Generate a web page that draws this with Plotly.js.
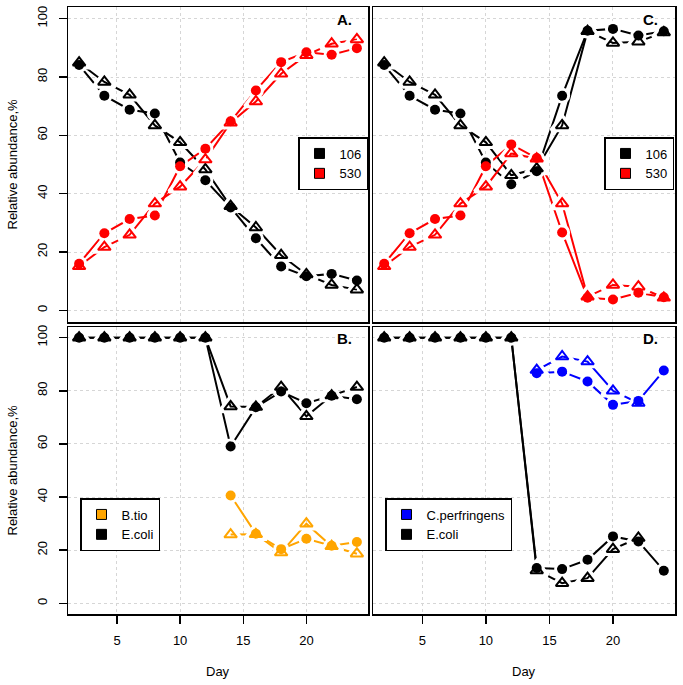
<!DOCTYPE html>
<html>
<head>
<meta charset="utf-8">
<script src="https://cdn.plot.ly/plotly-3.0.1.min.js"></script>
<style>html,body{margin:0;padding:0;background:#fff;}#chart{width:683px;height:685px;}</style>
</head>
<body>
<div id="chart"></div>
<script>
// ---------- data ----------
const days = [2, 4, 6, 8, 10, 12, 14, 16, 18, 20, 22, 24];
const xTicks = [5, 10, 15, 20];
const yTicks = [0, 20, 40, 60, 80, 100];

// Panel A
const a106Circle = [84.1, 73.6, 68.8, 67.5, 50.7, 44.6, 35.3, 24.7, 15.0, 11.7, 12.5, 10.2];
const a106Tri    = [84.9, 78.3, 73.9, 63.4, 57.6, 48.3, 35.7, 28.4, 18.9, 12.3, 8.7, 7.1];
const a530Circle = [16.0, 26.4, 31.3, 32.5, 49.4, 55.4, 64.8, 75.4, 85.1, 88.5, 87.6, 89.9];
const a530Tri    = [15.1, 21.7, 25.9, 36.6, 42.4, 51.7, 64.3, 71.6, 81.1, 87.5, 91.4, 92.9];

// Panel C
const c106Circle = [84.1, 73.6, 68.8, 67.5, 50.7, 43.2, 47.7, 73.6, 95.9, 96.5, 94.2, 95.7];
const c106Tri    = [84.9, 78.3, 73.9, 63.4, 57.6, 46.3, 48.6, 63.4, 95.7, 91.7, 92.1, 95.3];
const c530Circle = [16.0, 26.4, 31.3, 32.5, 49.4, 56.9, 52.2, 26.7, 4.3, 3.7, 6.0, 4.5];
const c530Tri    = [15.1, 21.7, 25.9, 36.6, 42.4, 53.8, 52.0, 36.6, 4.7, 8.7, 8.1, 4.3];

// Panel B
const bEcoliCircle = [100, 100, 100, 100, 100, 100, 59.0, 73.8, 79.7, 75.3, 78.1, 76.8];
const bEcoliTri    = [100, 100, 100, 100, 100, 100, 74.1, 73.9, 81.4, 70.4, 78.2, 81.4];
const bTioCircle   = [null, null, null, null, null, null, 40.6, 26.2, 20.4, 24.3, 21.7, 23.1];
const bTioTri      = [null, null, null, null, null, null, 25.9, 26.0, 19.1, 30.0, 21.5, 18.7];

// Panel D
const dEcoliCircle = [100, 100, 100, 100, 100, 100, 13.3, 12.9, 16.4, 25.2, 23.3, 12.3];
const dEcoliTri    = [100, 100, 100, 100, 100, 100, 12.4, 7.6, 9.5, 20.4, 24.6, null];
const dCperfCircle = [null, null, null, null, null, null, 86.6, 87.2, 83.5, 74.7, 76.2, 87.6];
const dCperfTri    = [null, null, null, null, null, null, 87.8, 92.9, 91.0, 80.0, 75.4, null];

// ---------- style ----------
const FONT = 'Liberation Sans, Arial, Helvetica, sans-serif';
const BLACK = '#000000', RED = '#FF0000', ORANGE = '#FFA500', BLUE = '#0000FF';

function series(xa, ya, y, color, kind) {
  const tri = kind === 'tri';
  const line = {x: days, y: y, xaxis: xa, yaxis: ya, mode: 'lines', showlegend: false,
    hoverinfo: 'skip', line: {color: color, width: 2}};
  const halo = {x: days, y: y, xaxis: xa, yaxis: ya, mode: 'markers', showlegend: false,
    hoverinfo: 'skip',
    marker: tri ? {symbol: 'triangle-up-open', size: 19, color: '#ffffff', line: {color: '#ffffff', width: 4}}
                : {symbol: 'circle-open', size: 13, color: '#ffffff', line: {color: '#ffffff', width: 3}}};
  const mk = {x: days, y: y, xaxis: xa, yaxis: ya, mode: 'markers', showlegend: false,
    marker: tri ? {symbol: 'triangle-up-open', size: 11, color: color, line: {color: color, width: 2}}
                : {symbol: 'circle', size: 10, color: color, line: {width: 0}}};
  return [line, halo, mk];
}
function panel(list) {
  const L = [], H = [], M = [];
  list.forEach(s => { const t = series(...s); L.push(t[0]); H.push(t[1]); M.push(t[2]); });
  return L.concat(H, M);
}
function legendItem(xa, ya, name, color, lg) {
  return {x: [null], y: [null], xaxis: xa, yaxis: ya, mode: 'markers', name: name, legend: lg,
    showlegend: true, marker: {symbol: 'square', size: 10, color: color, line: {color: '#000', width: 1}}};
}

const traces = [].concat(
  panel([['x', 'y', a106Circle, BLACK, 'circle'], ['x', 'y', a106Tri, BLACK, 'tri'],
         ['x', 'y', a530Circle, RED, 'circle'], ['x', 'y', a530Tri, RED, 'tri']]),
  panel([['x2', 'y2', bEcoliCircle, BLACK, 'circle'], ['x2', 'y2', bEcoliTri, BLACK, 'tri'],
         ['x2', 'y2', bTioCircle, ORANGE, 'circle'], ['x2', 'y2', bTioTri, ORANGE, 'tri']]),
  panel([['x3', 'y3', c106Circle, BLACK, 'circle'], ['x3', 'y3', c106Tri, BLACK, 'tri'],
         ['x3', 'y3', c530Circle, RED, 'circle'], ['x3', 'y3', c530Tri, RED, 'tri']]),
  panel([['x4', 'y4', dEcoliCircle, BLACK, 'circle'], ['x4', 'y4', dEcoliTri, BLACK, 'tri'],
         ['x4', 'y4', dCperfCircle, BLUE, 'circle'], ['x4', 'y4', dCperfTri, BLUE, 'tri']]),
  [legendItem('x', 'y', '106', BLACK, 'legend'), legendItem('x', 'y', '530', RED, 'legend'),
   legendItem('x2', 'y2', 'B.tio', ORANGE, 'legend2'), legendItem('x2', 'y2', 'E.coli', BLACK, 'legend2'),
   legendItem('x3', 'y3', '106', BLACK, 'legend3'), legendItem('x3', 'y3', '530', RED, 'legend3'),
   legendItem('x4', 'y4', 'C.perfringens', BLUE, 'legend4'), legendItem('x4', 'y4', 'E.coli', BLACK, 'legend4')]
);

const W = 683, H = 685;
const colL = [68 / W, 368 / W], colR = [373 / W, 675 / W];
const rowTop = [(H - 322) / H, (H - 7) / H], rowBot = [(H - 614) / H, (H - 327) / H];

function xAxis(domain, anchor, labels) {
  return {domain: domain, anchor: anchor, range: [1.12, 24.88], tickmode: 'array', tickvals: xTicks,
    ticktext: xTicks.map(String), showticklabels: labels, ticks: labels ? 'outside' : '', ticklen: 8,
    tickwidth: 1.5, tickcolor: '#000', ticklabelstandoff: 6,
    showgrid: true, gridcolor: '#d6d6d6', griddash: 'dot', gridwidth: 1, zeroline: false,
    showline: true, mirror: true, linecolor: '#000', linewidth: 1.5,
    tickfont: {family: FONT, size: 13, color: '#000'}, fixedrange: true};
}
function yAxis(domain, anchor, labels) {
  return {domain: domain, anchor: anchor, range: [-4, 104], tickmode: 'array', tickvals: yTicks,
    ticktext: yTicks.map(String), showticklabels: labels, ticks: labels ? 'outside' : '', ticklen: 8,
    tickwidth: 1.5, tickcolor: '#000', tickangle: -90, ticklabelstandoff: 6,
    showgrid: true, gridcolor: '#d6d6d6', griddash: 'dot', gridwidth: 1, zeroline: false,
    showline: true, mirror: true, linecolor: '#000', linewidth: 1.5,
    tickfont: {family: FONT, size: 13, color: '#000'}, fixedrange: true};
}
function legendBox(x, y, xanchor) {
  return {x: x, y: y, xanchor: xanchor, yanchor: 'top', bgcolor: '#ffffff', bordercolor: '#000',
    borderwidth: 1.5, font: {family: FONT, size: 13, color: '#000'}, itemwidth: 30, tracegroupgap: 0};
}
const letter = (t, xref, yref) => ({text: '<b>' + t + '</b>', xref: xref + ' domain', yref: yref + ' domain',
  x: 0.92, y: 0.96, showarrow: false, xanchor: 'center', yanchor: 'middle',
  font: {family: FONT, size: 15, color: '#000'}});

const layout = {
  width: W, height: H, margin: {l: 0, r: 0, t: 0, b: 0}, paper_bgcolor: '#fff', plot_bgcolor: '#fff',
  font: {family: FONT, color: '#000'}, showlegend: true,
  xaxis: xAxis(colL, 'y', false), yaxis: yAxis(rowTop, 'x', true),
  xaxis2: xAxis(colL, 'y2', true), yaxis2: yAxis(rowBot, 'x2', true),
  xaxis3: xAxis(colR, 'y3', false), yaxis3: yAxis(rowTop, 'x3', false),
  xaxis4: xAxis(colR, 'y4', true), yaxis4: yAxis(rowBot, 'x4', false),
  legend: legendBox(368 / W, (H - 137) / H, 'right'),
  legend2: legendBox(80 / W, (H - 498) / H, 'left'),
  legend3: legendBox(674 / W, (H - 137) / H, 'right'),
  legend4: legendBox(385 / W, (H - 498) / H, 'left'),
  annotations: [
    letter('A.', 'x', 'y'), letter('B.', 'x2', 'y2'), letter('C.', 'x3', 'y3'), letter('D.', 'x4', 'y4'),
    {text: 'Relative abundance,%', xref: 'paper', yref: 'y domain', x: 12 / W, y: 0.5, textangle: -90,
     showarrow: false, xanchor: 'center', yanchor: 'middle', font: {family: FONT, size: 13, color: '#000'}},
    {text: 'Relative abundance,%', xref: 'paper', yref: 'y2 domain', x: 12 / W, y: 0.5, textangle: -90,
     showarrow: false, xanchor: 'center', yanchor: 'middle', font: {family: FONT, size: 13, color: '#000'}},
    {text: 'Day', xref: 'x2 domain', yref: 'paper', x: 0.5, y: (H - 671) / H, showarrow: false,
     xanchor: 'center', yanchor: 'middle', font: {family: FONT, size: 13, color: '#000'}},
    {text: 'Day', xref: 'x4 domain', yref: 'paper', x: 0.5, y: (H - 671) / H, showarrow: false,
     xanchor: 'center', yanchor: 'middle', font: {family: FONT, size: 13, color: '#000'}}
  ]
};

Plotly.newPlot('chart', traces, layout, {displayModeBar: false, staticPlot: true});
</script>
</body>
</html>
